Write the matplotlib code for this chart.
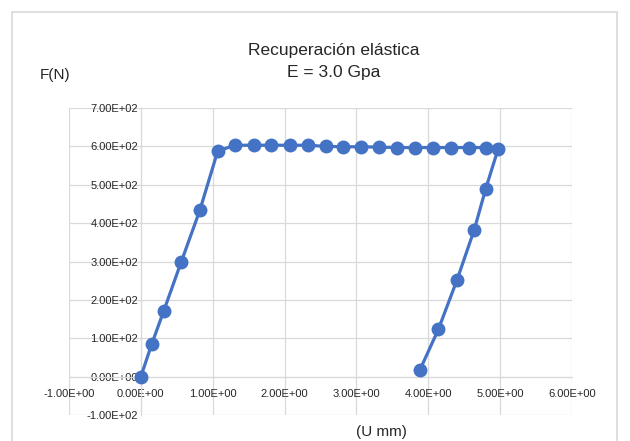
import matplotlib.pyplot as plt
from matplotlib.patches import Rectangle
from matplotlib.ticker import FuncFormatter

# Datos
u_mm = [0.00, 0.15, 0.32, 0.56, 0.82, 1.07,
        1.31, 1.57, 1.81, 2.07, 2.32, 2.57, 2.82, 3.07, 3.32, 3.57,
        3.82, 4.06, 4.31, 4.56, 4.81, 4.97,
        4.80, 4.64, 4.40, 4.14, 3.88]
f_n = [0, 84, 172, 298, 433, 588,
       603, 603, 603, 603, 603, 600, 599, 599, 598, 597,
       597, 597, 597, 597, 597, 592,
       490, 383, 252, 123, 16]

x_ticks = [-1, 0, 1, 2, 3, 4, 5, 6]
y_ticks = [-100, 0, 100, 200, 300, 400, 500, 600, 700]

plt.rcParams['font.family'] = ['Liberation Sans', 'DejaVu Sans']

fig = plt.figure(figsize=(6.3, 4.41), dpi=100)
fig.patches.append(Rectangle((12 / 630, -0.1), 605 / 630, 1 - 12 / 441 + 0.1,
                             transform=fig.transFigure, fill=False,
                             edgecolor='#d9d9d9', linewidth=1.2))

ax = fig.add_axes([69 / 630, 1 - 415 / 441, 503 / 630, 307 / 441])
ax.plot(u_mm, f_n, color='#4472C4', linewidth=2.3, marker='o',
        markersize=9, zorder=3)

ax.set_xlim(-1, 6)
ax.set_ylim(-100, 700)
ax.set_xticks(x_ticks)
ax.set_yticks(y_ticks)

fmt = FuncFormatter(lambda v, p: '{:.2E}'.format(v))
ax.xaxis.set_major_formatter(fmt)
ax.yaxis.set_major_formatter(fmt)

ax.grid(True, color='#d9d9d9', linewidth=0.9)
ax.set_axisbelow(True)
for s in ['top', 'right']:
    ax.spines[s].set_visible(False)
ax.spines['left'].set_position(('data', 0))
ax.spines['bottom'].set_position(('data', 0))
ax.spines['left'].set_color('#d9d9d9')
ax.spines['bottom'].set_color('#d9d9d9')
ax.tick_params(length=0, labelsize=8, colors='#262626')
ax.tick_params(axis='x', pad=9)
ax.tick_params(axis='y', pad=2)

fig.text(334 / 630, 1 - 50 / 441, 'Recuperación elástica', ha='center',
         va='center', fontsize=12.5, color='#262626')
fig.text(334 / 630, 1 - 73 / 441, 'E = 3.0 Gpa', ha='center',
         va='center', fontsize=12.5, color='#262626')
fig.text(55 / 630, 1 - 75 / 441, 'F(N)', ha='center', va='center',
         fontsize=11, color='#262626')
fig.text(381 / 630, 1 - 432 / 441, '(U mm)', ha='center', va='center',
         fontsize=11, color='#262626')

fig.savefig('out.png', dpi=100)
